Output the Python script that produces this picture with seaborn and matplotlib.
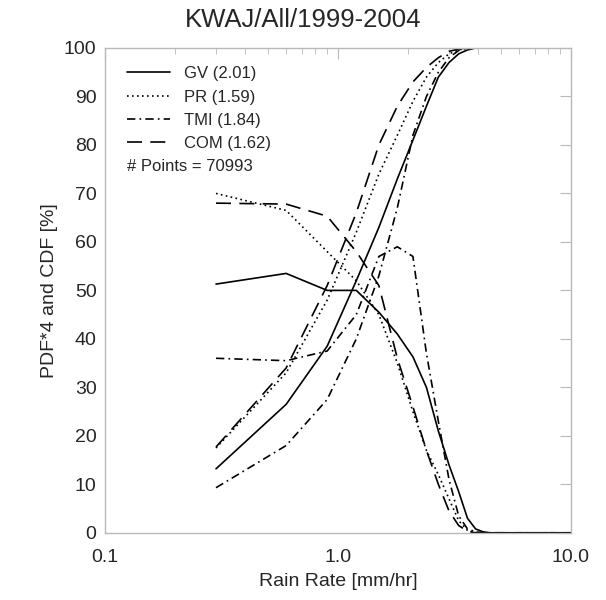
import pandas as pd
import seaborn as sns
import matplotlib.pyplot as plt
from matplotlib.ticker import FixedLocator, NullFormatter

# ==============================
# Data
# ==============================
rain = [0.3, 0.6, 0.9, 1.2, 1.5, 1.8, 2.1, 2.4, 2.7, 3.0, 3.3, 3.6, 3.9, 4.2, 4.5, 5.0, 6.0, 7.0, 8.0, 9.0, 10.0]

gv_pdf  = [51.3, 53.5, 50.0, 50.0, 45.5, 41.0, 36.3, 30.0, 21.0, 14.0, 8.5, 3.0, 0.8, 0.2, 0, 0, 0, 0, 0, 0, 0]
pr_pdf  = [70.0, 66.5, 58.0, 52.0, 45.0, 35.0, 25.0, 17.0, 12.0, 7.0, 2.5, 0.5, 0.1, 0, 0, 0, 0, 0, 0, 0, 0]
tmi_pdf = [36.0, 35.5, 37.5, 45.0, 57.0, 59.0, 57.0, 37.0, 23.0, 11.0, 3.5, 0.8, 0.2, 0, 0, 0, 0, 0, 0, 0, 0]
com_pdf = [68.0, 67.8, 65.3, 58.0, 51.0, 36.0, 26.0, 17.0, 10.0, 4.5, 1.5, 0.3, 0, 0, 0, 0, 0, 0, 0, 0, 0]

gv_cdf  = [13.2, 26.5, 38.5, 52.0, 63.0, 73.0, 81.0, 88.0, 94.0, 97.0, 98.8, 99.6, 100, 100, 100, 100, 100, 100, 100, 100, 100]
pr_cdf  = [17.5, 33.0, 48.0, 62.0, 74.0, 82.0, 89.0, 94.0, 97.0, 98.8, 99.6, 100, 100, 100, 100, 100, 100, 100, 100, 100, 100]
tmi_cdf = [9.3, 18.0, 27.5, 40.0, 53.0, 67.0, 82.0, 90.0, 95.0, 98.0, 99.5, 100, 100, 100, 100, 100, 100, 100, 100, 100, 100]
com_cdf = [17.7, 34.0, 51.0, 66.0, 80.0, 88.0, 93.0, 96.0, 98.0, 99.3, 99.8, 100, 100, 100, 100, 100, 100, 100, 100, 100, 100]

names = ["GV (2.01)", "PR (1.59)", "TMI (1.84)", "COM (1.62)"]
n_points = 70993

styles = {
    names[0]: "-",
    names[1]: (0, (1, 2)),
    names[2]: (0, (5, 2.5, 1, 2.5)),
    names[3]: (0, (9, 5)),
}

rows = []
for name, pdf, cdf in zip(names, [gv_pdf, pr_pdf, tmi_pdf, com_pdf],
                          [gv_cdf, pr_cdf, tmi_cdf, com_cdf]):
    for x, p, c in zip(rain, pdf, cdf):
        rows.append({"rain": x, "pdf": p, "cdf": c, "name": name})
df = pd.DataFrame(rows)

# ==============================
# Plot
# ==============================
sns.set_style("white")
plt.rcParams["font.family"] = ["Liberation Sans", "DejaVu Sans"]

fig = plt.figure(figsize=(6.06, 6.0), dpi=100)
ax = fig.add_axes([0.173, 0.112, 0.769, 0.808])

for name in names:
    sub = df[df["name"] == name]
    sns.lineplot(data=sub, x="rain", y="cdf", ax=ax, color="black",
                 linestyle=styles[name], linewidth=1.2, label=name)
    sns.lineplot(data=sub, x="rain", y="pdf", ax=ax, color="black",
                 linestyle=styles[name], linewidth=1.2, label="_nolegend_")

ax.set_xscale("log")
ax.set_xlim(0.1, 10)
ax.set_ylim(0, 100)
ax.set_xticks([0.1, 1, 10])
ax.set_xticklabels(["0.1", "1.0", "10.0"])
ax.xaxis.set_minor_locator(FixedLocator([m * d for d in (0.1, 1) for m in range(2, 10)]))
ax.xaxis.set_minor_formatter(NullFormatter())
ax.set_yticks(range(0, 101, 10))

for s in ax.spines.values():
    s.set_color("#b8b8b8")
    s.set_linewidth(1.0)
ax.tick_params(which="both", direction="in", top=True, right=True, color="#b8b8b8")
ax.tick_params(which="major", length=8, labelsize=14)
ax.tick_params(which="minor", length=4)
ax.tick_params(axis="x", pad=12)
ax.tick_params(axis="y", pad=6)

fig.suptitle("KWAJ/All/1999-2004", fontsize=18.5, x=0.5, y=0.987, va="top")
ax.set_xlabel("Rain Rate [mm/hr]", fontsize=14, labelpad=5)
ax.set_ylabel("PDF*4 and CDF [%]", fontsize=14)

leg = ax.legend(loc="upper left", frameon=False, fontsize=12, handlelength=2.6,
                handletextpad=0.85, labelspacing=0.5, borderaxespad=0.0,
                bbox_to_anchor=(0.033, 0.976))
ax.text(0.047, 0.756, f"# Points = {n_points}", transform=ax.transAxes,
        fontsize=12, va="center", ha="left")

fig.savefig("out.png", dpi=100)
